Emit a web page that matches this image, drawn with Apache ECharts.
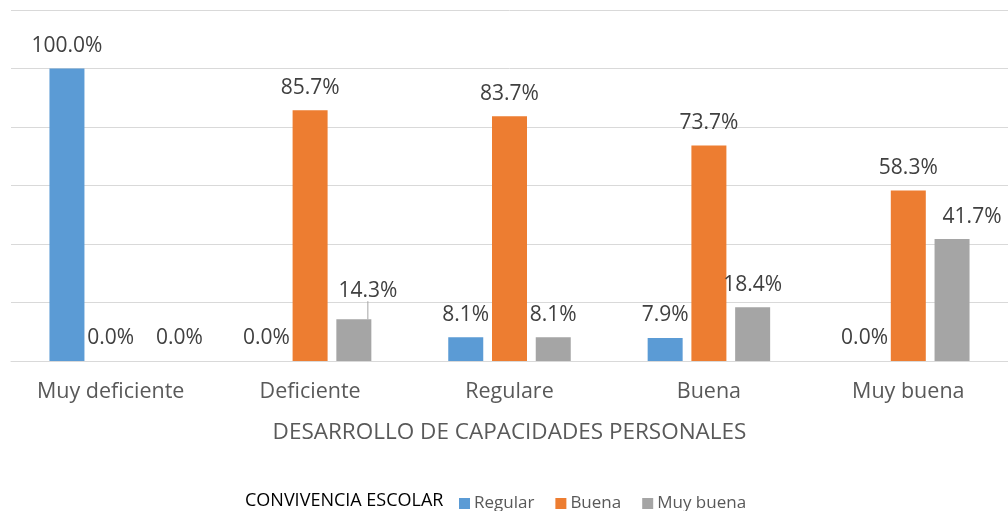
<!DOCTYPE html>
<html>
<head>
<meta charset="utf-8">
<script src="https://cdn.jsdelivr.net/npm/echarts@6/dist/echarts.min.js"></script>
<style>
  html, body { margin: 0; padding: 0; background: #fff; }
  #chart { width: 1008px; height: 511px; }
</style>
</head>
<body>
<div id="chart"></div>
<script>
// categorías del eje X
const categories = ['Muy deficiente', 'Deficiente', 'Regulare', 'Buena', 'Muy buena'];
// porcentajes por nivel de convivencia escolar
const regular = [100.0, 0.0, 8.1, 7.9, 0.0];
const buena = [0.0, 85.7, 83.7, 73.7, 58.3];
const muyBuena = [0.0, 14.3, 8.1, 18.4, 41.7];
const seriesNames = ['Regular', 'Buena', 'Muy buena'];
const colors = ['#5B9BD5', '#ED7D31', '#A5A5A5'];

const font = '"Open Sans", "Noto Sans", sans-serif';

const myChart = echarts.init(document.getElementById('chart'), null, { renderer: 'canvas' });

const labelStyle = {
  show: true,
  position: 'top',
  distance: 12,
  fontFamily: font,
  fontSize: 21,
  color: '#404040',
  formatter: (p) => p.value.toFixed(1) + '%',
};

// etiquetas que Excel desplazó a mano
function nudge(moves) {
  return (params) => {
    const m = moves[params.dataIndex];
    return m ? { dx: m[0], dy: m[1] } : {};
  };
}

function makeSeries(name, data, color, moves, lineAt) {
  return {
    type: 'bar',
    name: name,
    data: data.map((v, i) => (i === lineAt
      ? { value: v, labelLine: { show: true, lineStyle: { color: '#A6A6A6', width: 1 } } }
      : v)),
    barWidth: 35,
    barGap: '25%',
    itemStyle: { color: color },
    label: labelStyle,
    labelLayout: nudge(moves),
    labelLine: { show: false },
  };
}

myChart.setOption({
  animation: false,
  textStyle: { fontFamily: font },
  color: colors,
  grid: { left: 11, right: 0, top: 10, bottom: 150 },
  title: {
    text: 'CONVIVENCIA ESCOLAR',
    left: 240,
    top: 487,
    textStyle: { fontFamily: font, fontSize: 18, fontWeight: 'normal', color: '#000' },
  },
  legend: {
    data: seriesNames,
    left: 454,
    top: 490,
    itemWidth: 11,
    itemHeight: 11,
    itemGap: 21,
    icon: 'rect',
    textStyle: { fontFamily: font, fontSize: 17, color: '#595959', padding: [0, 0, 0, -1] },
  },
  xAxis: {
    type: 'category',
    data: categories,
    axisTick: { show: false },
    axisLine: { lineStyle: { color: '#D9D9D9', width: 1 } },
    axisLabel: { fontFamily: font, fontSize: 21.5, color: '#595959', margin: 20 },
    name: 'DESARROLLO DE CAPACIDADES PERSONALES',
    nameLocation: 'middle',
    nameGap: 60,
    nameTextStyle: { fontFamily: font, fontSize: 22.5, color: '#595959' },
  },
  yAxis: {
    type: 'value',
    min: 0,
    max: 120,
    interval: 20,
    axisLabel: { show: false },
    axisLine: { show: false },
    axisTick: { show: false },
    splitLine: { lineStyle: { color: '#D9D9D9', width: 1 } },
  },
  series: [
    makeSeries(seriesNames[0], regular, colors[0], {}, -1),
    makeSeries(seriesNames[1], buena, colors[1], {}, -1),
    makeSeries(seriesNames[2], muyBuena, colors[2], { 0: [25, 0], 1: [14, -6], 4: [20, 0] }, 1),
  ],
});
</script>
</body>
</html>
